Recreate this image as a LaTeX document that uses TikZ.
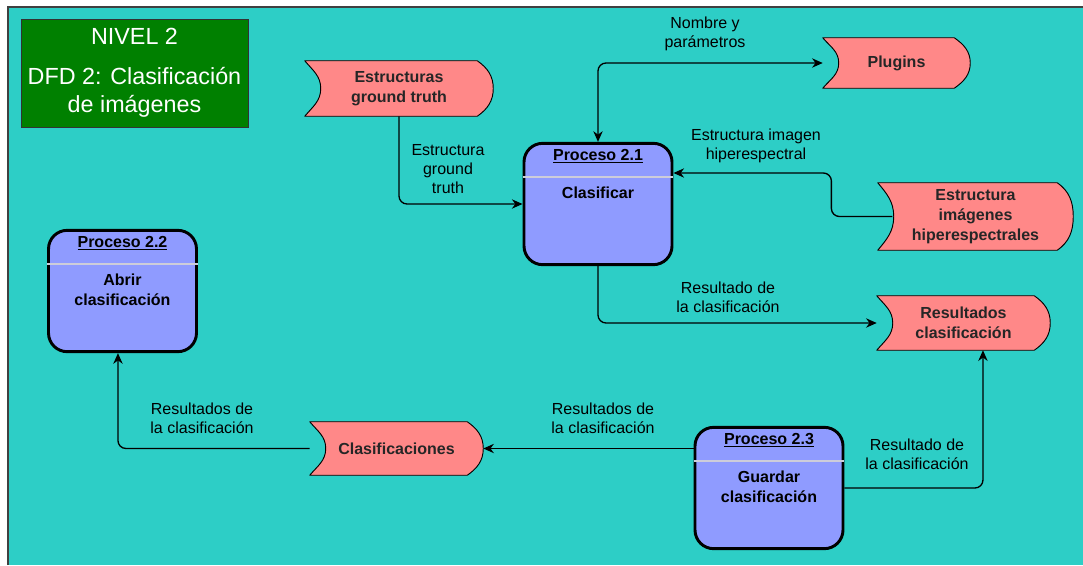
\documentclass[tikz,border=0pt]{standalone}
\usepackage{fontspec}
\setmainfont{Liberation Sans}
\usetikzlibrary{arrows.meta, positioning}
\definecolor{fondo}{RGB}{45,206,198}
\definecolor{verde}{RGB}{0,128,0}
\definecolor{rosa}{RGB}{255,136,136}
\definecolor{azul}{RGB}{143,155,255}
\definecolor{separa}{RGB}{205,205,218}
\tikzset{
    x=0.75pt, y=-0.75pt, % one unit is one pixel of the screenshot, y grows downwards
    >={Stealth[length=8pt, width=7pt]}, % arrow heads of the flows
    flujo/.style={->, line width=1pt, rounded corners=6pt}, % a data flow
    etiqueta/.style={align=center, font=\fontsize{12}{14.5}\selectfont}, % text on a flow
    titulo/.style={draw=black!80, fill=verde, text=white, align=center, minimum width=170.25pt, minimum height=81pt, font=\fontsize{17.5}{21}\selectfont},
    proceso/.style={draw, line width=2.2pt, fill=azul, rounded corners=14pt, minimum width=111pt, minimum height=91pt}, % process box
    cabecera/.style={inner sep=0pt, font=\bfseries\fontsize{12}{15}\selectfont}, % "Proceso x.y"
    cuerpo/.style={inner sep=0pt, align=center, font=\bfseries\fontsize{12}{15}\selectfont},
    separador/.style={draw=separa, line width=1.5pt},
    almacen/.style 2 args={minimum width=#1, minimum height=#2, inner sep=0pt, align=center,
        font=\bfseries\fontsize{12}{15}\selectfont, text=black!85,
        append after command={\pgfextra{% the store outline: hollow on the left, round on the right
            \filldraw[fill=rosa, draw=black, line width=0.7pt, line join=round]
                (\tikzlastnode.north west) -- ([xshift=-12pt]\tikzlastnode.north east)
                to[out=-35, in=90] (\tikzlastnode.east)
                to[out=-90, in=35] ([xshift=-12pt]\tikzlastnode.south east)
                -- (\tikzlastnode.south west)
                to[out=50, in=-90] ([xshift=12pt]\tikzlastnode.west)
                to[out=90, in=-50] (\tikzlastnode.north west) -- cycle;}}},
}

\begin{document}
\begin{tikzpicture}
    \useasboundingbox (0,0) rectangle (1083,565);
    \fill[white] (0,0) rectangle (1083,565);
    \fill[fondo] (8,7) rectangle (1083,565);
    \draw[black!75, line width=1.5pt] (8,565) -- (8,7) -- (1083,7);

    \node[titulo] (titulo) at (134.5,73) {NIVEL 2\\[9pt]DFD 2: Clasificación\\de imágenes};

    % data stores
    \node[almacen={141pt}{41.25pt}] (gt) at (399,88.5) {Estructuras\\ground truth};
    \node[almacen={110.25pt}{37.5pt}] (plugins) at (896.5,63) {Plugins};
    \node[almacen={146.25pt}{50.25pt}] (hiper) at (975.5,216.5) {Estructura\\imágenes\\hiperespectrales};
    \node[almacen={129.75pt}{40.5pt}] (resul) at (963.5,323) {Resultados\\clasificación};
    \node[almacen={129.75pt}{39.75pt}] (clasif) at (396.5,448.5) {Clasificaciones};

    % processes
    \node[proceso] (p21) at (598,204) {};
    \node[cabecera, below=5.5pt of p21.north] (p21h) {\underline{Proceso 2.1}};
    \draw[separador] ([yshift=-26.5pt]p21.north west) -- ([yshift=-26.5pt]p21.north east);
    \node[cuerpo, below=33.5pt of p21.north] (p21t) {Clasificar};

    \node[proceso] (p22) at (122.5,291) {};
    \node[cabecera, below=5.5pt of p22.north] (p22h) {\underline{Proceso 2.2}};
    \draw[separador] ([yshift=-26.5pt]p22.north west) -- ([yshift=-26.5pt]p22.north east);
    \node[cuerpo, below=33.5pt of p22.north] (p22t) {Abrir\\clasificación};

    \node[proceso] (p23) at (769,488) {};
    \node[cabecera, below=5.5pt of p23.north] (p23h) {\underline{Proceso 2.3}};
    \draw[separador] ([yshift=-26.5pt]p23.north west) -- ([yshift=-26.5pt]p23.north east);
    \node[cuerpo, below=33.5pt of p23.north] (p23t) {Guardar\\clasificación};

    % flows
    \draw[flujo, <->] (p21.north) |- (plugins.west);
    \draw[flujo] (gt.south) |- (p21.west);
    \draw[flujo] ([xshift=11pt]hiper.west) -- ++(-61,0) |- ([yshift=23.25pt]p21.east);
    \draw[flujo] (p21.south) |- (resul.west);
    \draw[flujo] (p23.east) -| ([xshift=14.6pt]resul.south);
    \draw[flujo] (p23.west |- clasif.east) -- (clasif.east);
    \draw[flujo] (clasif.west) -| ([xshift=-3.4pt]p22.south);

    \node[etiqueta] (e1) at (705,34) {Nombre y\\parámetros};
    \node[etiqueta] (e2) at (448,169) {Estructura\\ground\\truth};
    \node[etiqueta] (e3) at (756,146) {Estructura imagen\\hiperespectral};
    \node[etiqueta] (e4) at (728,297) {Resultado de\\la clasificación};
    \node[etiqueta] (e5) at (917,454) {Resultado de\\la clasificación};
    \node[etiqueta] (e6) at (603,418) {Resultados de\\la clasificación};
    \node[etiqueta] (e7) at (202,418) {Resultados de\\la clasificación};
\end{tikzpicture}
\end{document}
